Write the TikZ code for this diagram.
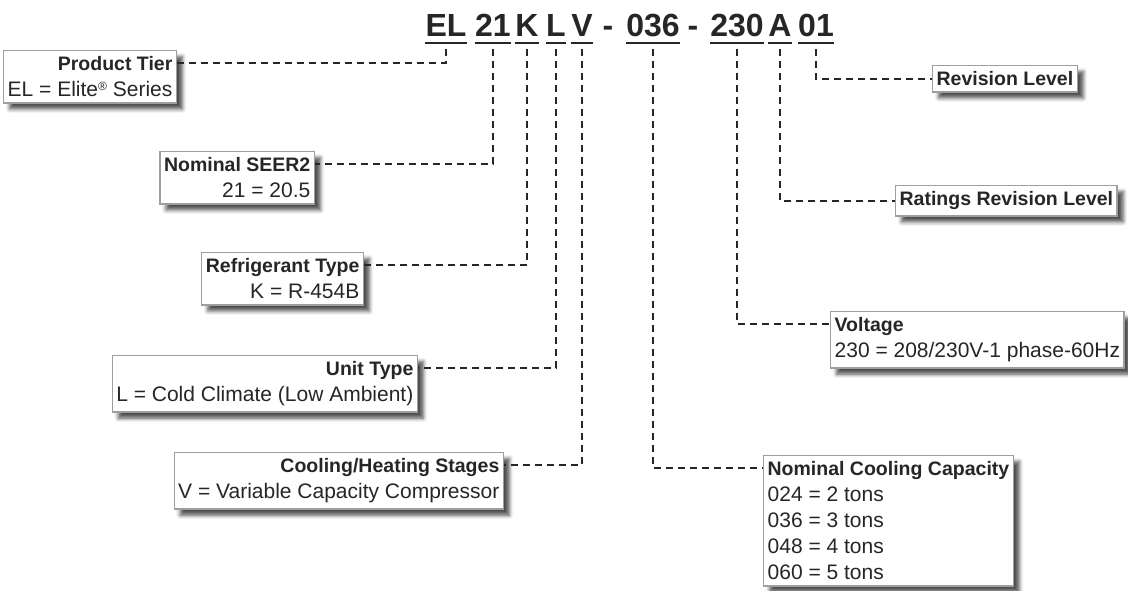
\documentclass[tikz,border=0pt]{standalone}
\usepackage{fontspec}
\setmainfont{Liberation Sans}
\usepackage{tikz}
\usetikzlibrary{positioning}
\usetikzlibrary{shadows.blur}

\newcommand{\hd}[1]{{\fontsize{19.5}{26}\selectfont\bfseries #1}}

\begin{document}
\begin{tikzpicture}
    [
    x=1pt, y=-1pt,
    seg/.style={font=\fontsize{32}{38}\selectfont\bfseries, text=black!85, inner xsep=0pt, inner ysep=6pt, text depth=0pt, anchor=base},
    info/.style={draw=black!38, line width=1.3pt, fill=white, text=black!85, inner xsep=4pt, inner ysep=6pt,
      font=\fontsize{21}{26}\selectfont,
      blur shadow={shadow xshift=6pt, shadow yshift=-6pt, shadow blur radius=4pt, shadow opacity=70}},
    lead/.style={line width=2.4pt, dash pattern=on 7pt off 5pt, black!85},
    under/.style={line width=2.2pt, black!85},
    ]
    \useasboundingbox (0,0) rectangle (1128,591);

    % model number
    \node (sTier) at (446,37) [seg] {EL};
    \node (sSeer) at (493,37) [seg] {21};
    \node (sRef) at (527,37) [seg] {K};
    \node (sUnit) at (556,37) [seg] {L};
    \node (sStage) at (582,37) [seg] {V};
    \node (h1) at (608,37) [seg] {-};
    \node (sCap) at (653,37) [seg] {036};
    \node (h2) at (693,37) [seg] {-};
    \node (sVolt) at (737,37) [seg] {230};
    \node (sRat) at (780,37) [seg] {A};
    \node (sRev) at (816,37) [seg] {01};

    \foreach \s in {sTier,sSeer,sRef,sUnit,sStage,sCap,sVolt,sRat,sRev}
      \draw [under] (\s.south west) to (\s.south east);

    % left side
    \node (tier) at (177,50) [info, anchor=north east, align=right]
      {\hd{Product Tier}\\EL = Elite{\fontsize{12}{12}\selectfont\raisebox{6pt}{®}} Series};
    \node (seer) at (315,151) [info, anchor=north east, align=right]
      {\hd{Nominal SEER2}\\21 = 20.5};
    \node (refrig) at (364,252) [info, anchor=north east, align=right]
      {\hd{Refrigerant Type}\\K = R-454B};
    \node (unit) at (418,355) [info, anchor=north east, align=right]
      {\hd{Unit Type}\\L = Cold Climate (Low Ambient)};
    \node (stages) at (504,452) [info, anchor=north east, align=right]
      {\hd{Cooling/Heating Stages}\\V = Variable Capacity Compressor};

    % right side
    \node (capacity) at (763,455) [info, anchor=north west, align=left]
      {\hd{Nominal Cooling Capacity}\\024 = 2 tons\\036 = 3 tons\\048 = 4 tons\\060 = 5 tons};
    \node (voltage) at (830,311) [info, anchor=north west, align=left]
      {\hd{Voltage}\\230 = 208/230V-1 phase-60Hz};
    \node (ratings) at (895,185) [info, anchor=north west, align=left]
      {\hd{Ratings Revision Level}};
    \node (revision) at (932,65) [info, anchor=north west, align=left]
      {\hd{Revision Level}};

    \draw [lead] ([yshift=-6pt]sTier.south) |- ([yshift=-13pt]tier.north east);
    \draw [lead] ([yshift=-6pt]sSeer.south) |- ([yshift=-13pt]seer.north east);
    \draw [lead] ([yshift=-6pt]sRef.south) |- ([yshift=-13pt]refrig.north east);
    \draw [lead] ([yshift=-6pt]sUnit.south) |- ([yshift=-13pt]unit.north east);
    \draw [lead] ([yshift=-6pt]sStage.south) |- ([yshift=-13pt]stages.north east);

    \draw [lead] ([yshift=-6pt]sCap.south) |- ([yshift=-13pt]capacity.north west);
    \draw [lead] ([yshift=-6pt]sVolt.south) |- ([yshift=-13pt]voltage.north west);
    \draw [lead] ([yshift=-6pt]sRat.south) |- (ratings.west);
    \draw [lead] ([yshift=-6pt]sRev.south) |- (revision.west);
\end{tikzpicture}
\end{document}
